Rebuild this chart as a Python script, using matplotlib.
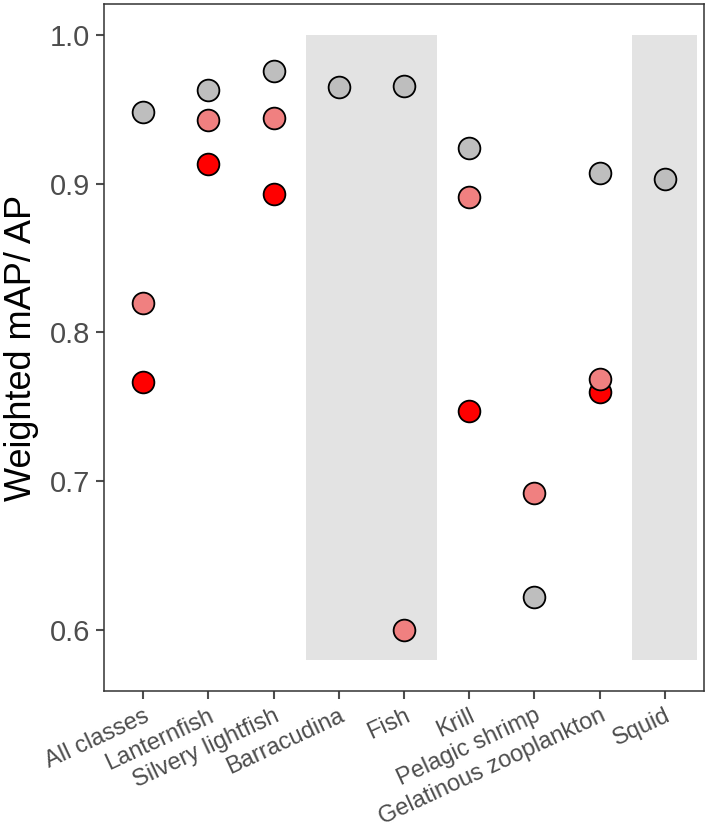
import numpy as np
import matplotlib
matplotlib.use("Agg")
import matplotlib.pyplot as plt

plt.rcParams['font.family'] = ['Liberation Sans', 'DejaVu Sans']

classes = ["All classes", "Lanternfish", "Silvery lightfish", "Barracudina", "Fish",
           "Krill", "Pelagic shrimp", "Gelatinous zooplankton", "Squid"]
nan = np.nan
# three series (grey, light red, red); NaN = no point
grey_vals = [0.948, 0.963, 0.976, 0.965, 0.966, 0.924, 0.622, 0.907, 0.903]
light_vals = [0.820, 0.943, 0.944, nan, 0.600, 0.891, 0.692, 0.769, nan]
red_vals = [0.767, 0.913, 0.893, nan, nan, 0.747, nan, 0.760, nan]
shaded = [(3.5, 5.5), (8.5, 9.5)]
shade_y = (0.58, 1.0)

fig = plt.figure(figsize=(7.1, 8.32), dpi=100)
ax = fig.add_axes([0.1465, 0.1695, 0.845, 0.8257])

x = np.arange(1, len(classes) + 1)
for x0, x1 in shaded:
    ax.fill_between([x0, x1], shade_y[0], shade_y[1], color="#e3e3e3", lw=0, zorder=0)

for vals, col in [(red_vals, "#ff0000"), (light_vals, "#f08080"), (grey_vals, "#bebebe")]:
    v = np.array(vals, dtype=float)
    ax.scatter(x, v, s=245, c=col, edgecolors="black", linewidths=1.3, zorder=3)

ax.set_xlim(0.4, 9.6)
ax.set_ylim(0.559, 1.0208)
ax.set_yticks([0.6, 0.7, 0.8, 0.9, 1.0])
ax.set_yticklabels(["0.6", "0.7", "0.8", "0.9", "1.0"])
ax.set_xticks(x)
ax.set_xticklabels(classes, rotation=25, ha="right", rotation_mode="anchor")
ax.tick_params(axis="y", labelsize=21, colors="#4d4d4d", length=6, width=1.5, pad=4)
ax.tick_params(axis="x", labelsize=17, colors="#4d4d4d", length=6, width=1.5, pad=4)
ax.set_ylabel("Weighted mAP/ AP", fontsize=26, color="black", labelpad=8)
for s in ax.spines.values():
    s.set_color("#333333")
    s.set_linewidth(1.1)

fig.savefig("out.png", dpi=100)
